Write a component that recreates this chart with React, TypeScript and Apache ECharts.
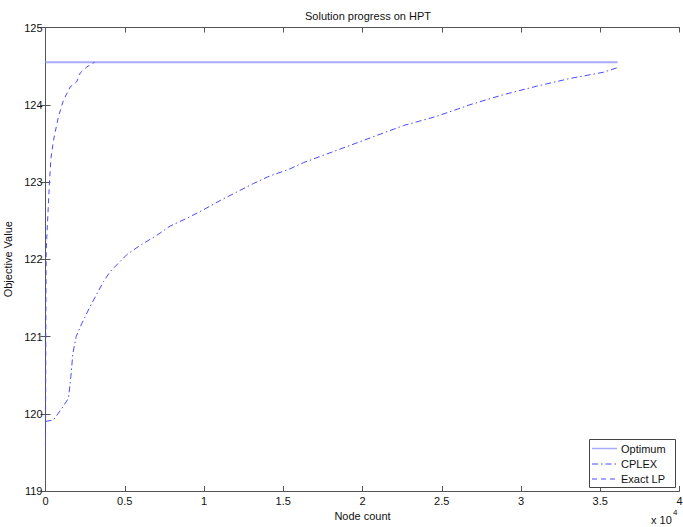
import React, { useEffect, useRef } from "react";
import * as echarts from "echarts";

const optimumX = [0, 36100];
const optimumY = [124.55, 124.55];

const cplexX = [0, 504, 1034, 1450, 1600, 1727, 1936, 2295, 2818, 3657, 4080, 5132, 5971, 7024, 7866, 8915, 9962, 11015, 12068, 13115, 14168, 15321, 16270, 18373, 20475, 22574, 24678, 26780, 28880, 30984, 33083, 35183, 36090];
const cplexY = [119.9, 119.92, 120.07, 120.2, 120.48, 120.78, 121.0, 121.17, 121.39, 121.71, 121.84, 122.06, 122.18, 122.31, 122.43, 122.53, 122.64, 122.76, 122.87, 122.98, 123.08, 123.16, 123.25, 123.41, 123.57, 123.73, 123.85, 124.0, 124.13, 124.24, 124.34, 124.42, 124.48];

const exactX = [0, 15, 28, 44, 126, 252, 340, 504, 820, 1135, 1557, 1980, 2188, 2610, 3090];
const exactY = [119.58, 120.6, 121.5, 122.12, 122.47, 123.0, 123.3, 123.54, 123.85, 124.06, 124.23, 124.3, 124.41, 124.49, 124.55];

const xTickValues = [0, 0.5, 1, 1.5, 2, 2.5, 3, 3.5, 4];
const legendNames = ["Optimum", "CPLEX", "Exact LP"];

const FONT = "'Liberation Sans', Arial, Helvetica, sans-serif";
const OPT_COLOR = "#a8acf8";
const LINE_COLOR = "#4a4aff";
const CPLEX_DASH = [6, 3, 1.5, 3];
const EXACT_DASH = [5, 4];

function pairs(xs: number[], ys: number[]) {
  return xs.map((x, i) => [x, ys[i]]);
}

export default function App() {
  const ref = useRef<HTMLDivElement>(null);
  useEffect(() => {
    if (!ref.current) return;
    const chart = echarts.init(ref.current, null, { renderer: "svg" });
    const axisCommon = {
      axisLine: { show: true, lineStyle: { color: "#555", width: 1 } },
      axisTick: { show: true, inside: true, length: 5, lineStyle: { color: "#555" } },
      splitLine: { show: false },
    };
    const legendStyles = [
      { stroke: OPT_COLOR, lineWidth: 1.5 },
      { stroke: LINE_COLOR, lineWidth: 1, lineDash: CPLEX_DASH },
      { stroke: LINE_COLOR, lineWidth: 1, lineDash: EXACT_DASH },
    ];
    const rowY = [448.5, 464, 479];
    const legendGraphics: any[] = [
      {
        type: "rect",
        shape: { x: 589.5, y: 439.5, width: 86, height: 48 },
        style: { fill: "#fff", stroke: "#444", lineWidth: 1 },
        z: 100,
      },
    ];
    legendNames.forEach((name, i) => {
      legendGraphics.push({
        type: "line",
        shape: { x1: 592, y1: rowY[i], x2: 617, y2: rowY[i] },
        style: legendStyles[i],
        z: 101,
      });
      legendGraphics.push({
        type: "text",
        x: 621,
        y: rowY[i],
        style: {
          text: name,
          fontFamily: FONT,
          fontSize: 11,
          fill: "#111",
          verticalAlign: "middle",
          align: "left",
        },
        z: 101,
      });
    });
    chart.setOption({
      animation: false,
      backgroundColor: "#fff",
      title: {
        text: "Solution progress on HPT",
        left: 363,
        top: 5,
        textAlign: "center",
        textStyle: { fontFamily: FONT, fontSize: 11, fontWeight: "normal", color: "#111" },
      },
      grid: { left: 45.5, right: 3.5, top: 27.5, bottom: 36, show: false, outerBoundsMode: "none", containLabel: false },
      xAxis: [
        {
          type: "value",
          min: 0,
          max: 40000,
          interval: 5000,
          position: "bottom",
          name: "Node count",
          nameLocation: "middle",
          nameGap: 16,
          nameTextStyle: { fontFamily: FONT, fontSize: 11, color: "#111" },
          axisLabel: {
            fontFamily: FONT,
            fontSize: 11,
            color: "#111",
            margin: 4,
            formatter: (v: number) => String(xTickValues[Math.round(v / 5000)] ?? v / 10000),
          },
          ...axisCommon,
        },
        {
          type: "value",
          min: 0,
          max: 40000,
          interval: 5000,
          position: "top",
          axisLabel: { show: false },
          ...axisCommon,
        },
      ],
      yAxis: [
        {
          type: "value",
          min: 119,
          max: 125,
          interval: 1,
          position: "left",
          name: "Objective Value",
          nameLocation: "middle",
          nameGap: 29,
          nameTextStyle: { fontFamily: FONT, fontSize: 11, color: "#111" },
          axisLabel: { fontFamily: FONT, fontSize: 11, color: "#111", margin: 3 },
          ...axisCommon,
        },
        {
          type: "value",
          min: 119,
          max: 125,
          interval: 1,
          position: "right",
          axisLabel: { show: false },
          ...axisCommon,
        },
      ],
      series: [
        {
          name: "Optimum",
          type: "line",
          data: pairs(optimumX, optimumY),
          symbol: "none",
          lineStyle: { color: OPT_COLOR, width: 2, type: "solid" },
        },
        {
          name: "CPLEX",
          type: "line",
          data: pairs(cplexX, cplexY),
          symbol: "none",
          lineStyle: { color: LINE_COLOR, width: 1, type: CPLEX_DASH },
        },
        {
          name: "Exact LP",
          type: "line",
          data: pairs(exactX, exactY),
          symbol: "none",
          lineStyle: { color: LINE_COLOR, width: 1, type: EXACT_DASH },
        },
      ],
      graphic: [
        ...legendGraphics,
        {
          type: "text",
          left: 651,
          top: 514,
          style: { text: "x 10", fontFamily: FONT, fontSize: 11, fill: "#111" },
        },
        {
          type: "text",
          left: 673,
          top: 508,
          style: { text: "4", fontFamily: FONT, fontSize: 8, fill: "#111" },
        },
      ],
    });
    return () => chart.dispose();
  }, []);
  return <div ref={ref} style={{ width: 683, height: 527, position: "absolute", left: 0, top: 0 }} />;
}
